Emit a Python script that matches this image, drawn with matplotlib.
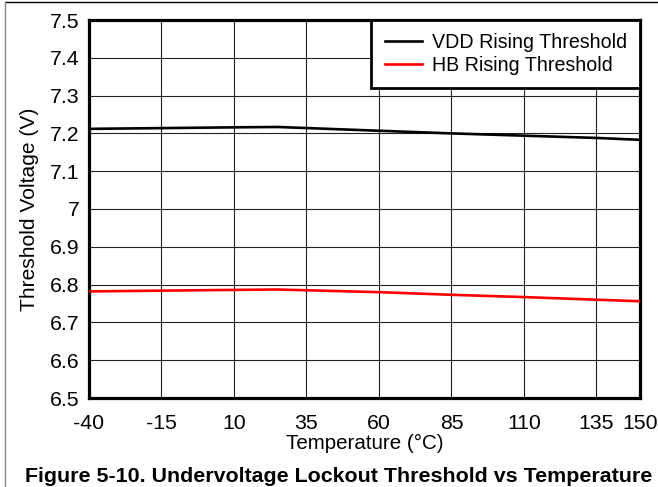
import matplotlib
matplotlib.use("Agg")
import matplotlib.pyplot as plt
from matplotlib.lines import Line2D

plt.rcParams['font.family'] = ['Liberation Sans', 'DejaVu Sans']

# Data
temps = [-40, -15, 10, 25, 60, 85, 110, 135, 150]
vdd_rising = [7.212, 7.214, 7.216, 7.217, 7.207, 7.200, 7.194, 7.188, 7.183]
hb_rising = [6.782, 6.784, 6.786, 6.787, 6.780, 6.773, 6.767, 6.760, 6.756]
x_ticks = [-40, -15, 10, 35, 60, 85, 110, 135, 150]
y_ticks = [6.5, 6.6, 6.7, 6.8, 6.9, 7.0, 7.1, 7.2, 7.3, 7.4, 7.5]
y_tick_labels = ['6.5', '6.6', '6.7', '6.8', '6.9', '7', '7.1', '7.2', '7.3', '7.4', '7.5']

W, H = 658, 487
fig = plt.figure(figsize=(W / 100, H / 100), dpi=100)
ax = fig.add_axes([89 / W, 1 - 398 / H, (640 - 89) / W, (398 - 20) / H])

ax.plot(temps, vdd_rising, color='black', lw=1.9, label='VDD Rising Threshold', zorder=3)
ax.plot(temps, hb_rising, color='#ff0000', lw=1.9, label='HB Rising Threshold', zorder=3)

ax.set_xlim(-40, 150)
ax.set_ylim(6.5, 7.5)
ax.set_xticks(x_ticks)
ax.set_xticklabels([str(t) for t in x_ticks])
ax.set_yticks(y_ticks)
ax.set_yticklabels(y_tick_labels)
ax.tick_params(axis='both', length=0, labelsize=15.3)
ax.tick_params(axis='x', pad=11.5)
ax.tick_params(axis='y', pad=7)
ax.grid(True, color='#222222', lw=0.8)
ax.set_axisbelow(True)
for s in ax.spines.values():
    s.set_linewidth(2.3)
    s.set_color('black')

ax.set_xlabel('Temperature (°C)', fontsize=14.8, labelpad=1)
ax.set_ylabel('Threshold Voltage (V)', fontsize=15.1, labelpad=8)

leg = ax.legend(loc='upper right', borderaxespad=0, fancybox=False, fontsize=14.1,
                handlelength=1.9, handletextpad=0.5, labelspacing=0.18,
                borderpad=0.68, framealpha=1)
leg.get_frame().set_edgecolor('black')
leg.get_frame().set_linewidth(2.0)

fig.text(339 / W, 1 - 476 / H,
         'Figure 5-10. Undervoltage Lockout Threshold vs Temperature',
         ha='center', va='center', fontsize=15.4, fontweight='bold')

# Outer frame lines
fig.add_artist(Line2D([5 / W, 1], [1 - 2 / H, 1 - 2 / H], color='black', lw=1.0,
                      transform=fig.transFigure))
fig.add_artist(Line2D([5 / W, 5 / W], [0, 1 - 2 / H], color='#888888', lw=1.0,
                      transform=fig.transFigure))

fig.savefig('out.png', dpi=100)
